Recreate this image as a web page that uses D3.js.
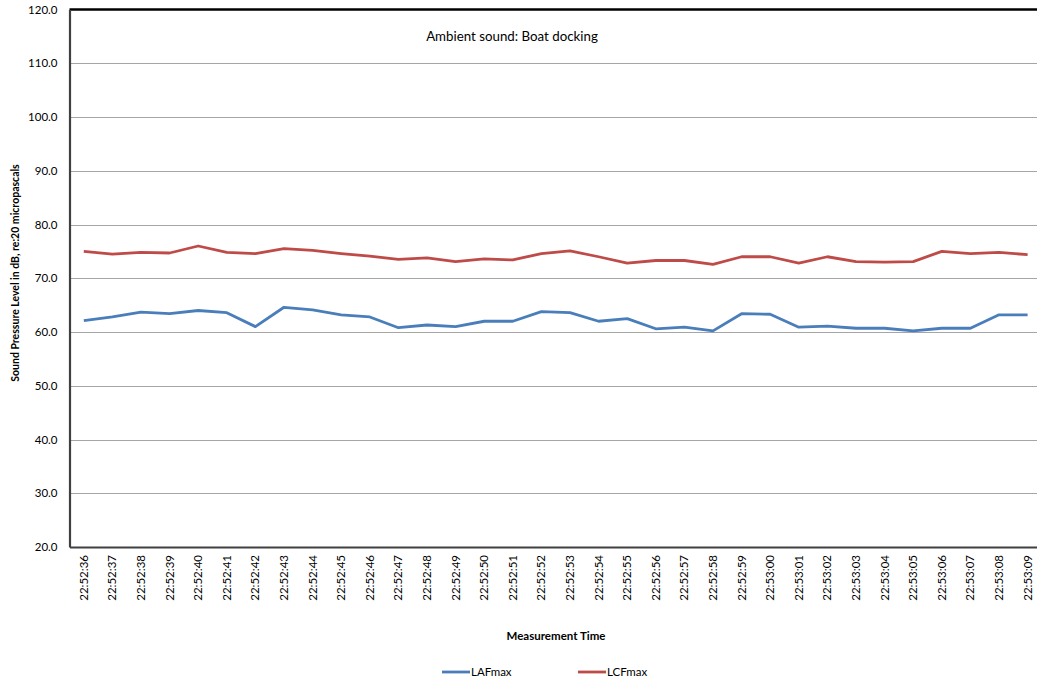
<!DOCTYPE html>
<html>
<head>
<meta charset="utf-8">
<script src="https://cdn.jsdelivr.net/npm/d3@7"></script>
<style>
html, body { margin: 0; padding: 0; background: #fff; }
svg { display: block; font-family: Lato, "Open Sans", sans-serif; }
</style>
</head>
<body>
<svg id="chart" width="1037" height="682"></svg>
<script>
const categories = ["22:52:36","22:52:37","22:52:38","22:52:39","22:52:40","22:52:41","22:52:42","22:52:43","22:52:44","22:52:45","22:52:46","22:52:47","22:52:48","22:52:49","22:52:50","22:52:51","22:52:52","22:52:53","22:52:54","22:52:55","22:52:56","22:52:57","22:52:58","22:52:59","22:53:00","22:53:01","22:53:02","22:53:03","22:53:04","22:53:05","22:53:06","22:53:07","22:53:08","22:53:09"];
const lafmax = [62.1,62.8,63.7,63.4,64.0,63.6,61.0,64.6,64.1,63.2,62.8,60.8,61.3,61.0,62.0,62.0,63.8,63.6,62.0,62.5,60.6,60.9,60.2,63.4,63.3,60.9,61.1,60.7,60.7,60.2,60.7,60.7,63.2,63.2];
const lcfmax = [75.0,74.5,74.8,74.7,76.0,74.8,74.6,75.5,75.2,74.6,74.1,73.5,73.8,73.1,73.6,73.4,74.6,75.1,74.0,72.8,73.3,73.3,72.6,74.0,74.0,72.8,74.0,73.1,73.0,73.1,75.0,74.6,74.8,74.4];
const yTicks = [20,30,40,50,60,70,80,90,100,110,120];
const seriesNames = ["LAFmax","LCFmax"];
const seriesColors = ["#4a7ebb","#be4b48"];
const title = "Ambient sound: Boat docking";
const xTitle = "Measurement Time";
const yTitle = "Sound Pressure Level in dB, re:20 micropascals";

const svg = d3.select("#chart");
const mLeft = 69.5, mTop = 9.5, mBottom = 547;
const bandW = 28.6;
const mRight = mLeft + categories.length * bandW;

const x = d3.scaleBand().domain(categories).range([mLeft, mRight]).padding(0);
const y = d3.scaleLinear().domain([20, 120]).range([mBottom, mTop]);

// gridlines
svg.append("g").selectAll("line").data(yTicks.filter(t => t !== 20 && t !== 120)).join("line")
  .attr("x1", mLeft).attr("x2", mRight)
  .attr("y1", d => Math.round(y(d)) + 0.5).attr("y2", d => Math.round(y(d)) + 0.5)
  .attr("stroke", "#a6a6a6").attr("stroke-width", 1);

// top border
svg.append("line").attr("x1", mLeft).attr("x2", mRight).attr("y1", mTop).attr("y2", mTop)
  .attr("stroke", "#000").attr("stroke-width", 2.5);

// y axis
const yAxis = d3.axisLeft(y).tickValues(yTicks).tickFormat(d3.format(".1f")).tickSize(0).tickPadding(12);
const gy = svg.append("g").attr("transform", `translate(${mLeft},0)`).call(yAxis);
gy.select(".domain").attr("stroke", "#404040").attr("stroke-width", 2.2);
gy.selectAll("text").attr("font-size", 11.5).attr("fill", "#000").attr("font-family", "Lato, sans-serif");

// x axis
const xAxis = d3.axisBottom(x).tickSize(0).tickPadding(0);
const gx = svg.append("g").attr("transform", `translate(0,${mBottom})`).call(xAxis);
gx.select(".domain").attr("stroke", "#404040").attr("stroke-width", 2.2);
gx.selectAll("text")
  .attr("font-size", 11.5).attr("fill", "#000").attr("font-family", "Lato, sans-serif")
  .attr("text-anchor", "end")
  .attr("dy", null).attr("y", 0)
  .attr("transform", "translate(4,8) rotate(-90)");

// lines
const line = d3.line().x((d, i) => x(categories[i]) + x.bandwidth() / 2).y(d => y(d));
[lafmax, lcfmax].forEach((s, k) => {
  svg.append("path").datum(s).attr("d", line)
    .attr("fill", "none").attr("stroke", seriesColors[k]).attr("stroke-width", 2.8)
    .attr("stroke-linejoin", "round");
});

// title
svg.append("text").attr("x", 512).attr("y", 41).attr("text-anchor", "middle")
  .attr("font-size", 13.3).attr("fill", "#000").text(title);

// axis titles
svg.append("text").attr("x", 556).attr("y", 640).attr("text-anchor", "middle")
  .attr("font-size", 11.5).attr("font-weight", "bold").attr("fill", "#000").text(xTitle);
svg.append("text").attr("transform", `translate(19,${273}) rotate(-90)`).attr("text-anchor", "middle")
  .attr("font-size", 10.5).attr("font-weight", "bold").attr("fill", "#000").text(yTitle);

// legend
const legendX = [442, 578];
seriesNames.forEach((n, k) => {
  const g = svg.append("g").attr("transform", `translate(${legendX[k]},672)`);
  g.append("line").attr("x1", 0).attr("x2", 28).attr("y1", 0).attr("y2", 0)
    .attr("stroke", seriesColors[k]).attr("stroke-width", 2.8);
  g.append("text").attr("x", 29).attr("y", 4).attr("font-size", 11.5).attr("fill", "#000").text(n);
});
</script>
</body>
</html>
